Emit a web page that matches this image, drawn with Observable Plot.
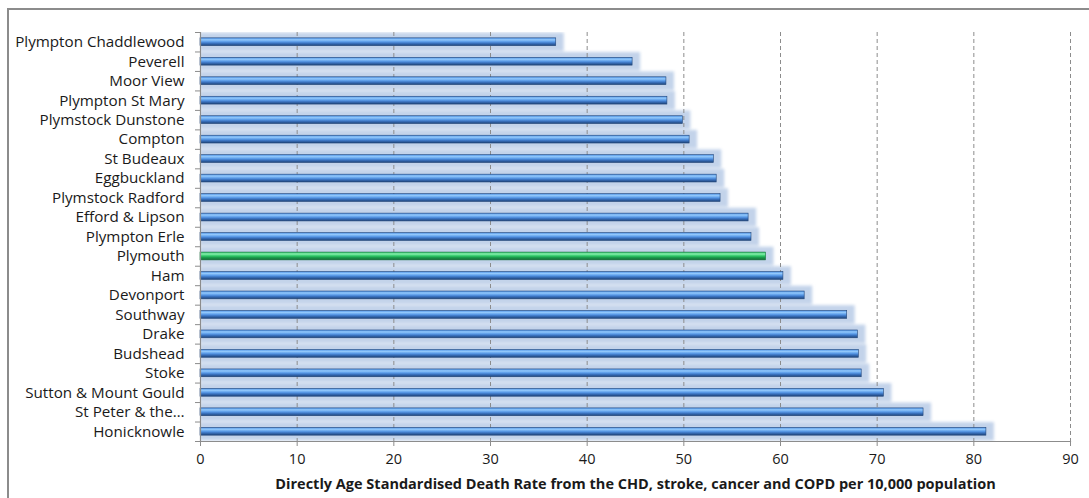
<!DOCTYPE html>
<html>
<head>
<meta charset="utf-8">
<script src="https://cdn.jsdelivr.net/npm/d3@7"></script>
<script src="https://cdn.jsdelivr.net/npm/@observablehq/plot@0.6"></script>
<style>
  body { margin: 0; background: #fff; }
  #wrap { position: relative; width: 1089px; height: 498px; overflow: hidden; background: #fff; }
  #frame { position: absolute; left: 7px; top: 8px; width: 1200px; height: 600px; border: 2px solid #8c8c8c; }
  #chart { position: absolute; left: 0; top: 0; }
</style>
</head>
<body>
<div id="wrap">
  <div id="frame"></div>
  <div id="chart"></div>
</div>
<script>
const names = [
  "Plympton Chaddlewood", "Peverell", "Moor View", "Plympton St Mary", "Plymstock Dunstone",
  "Compton", "St Budeaux", "Eggbuckland", "Plymstock Radford", "Efford & Lipson",
  "Plympton Erle", "Plymouth", "Ham", "Devonport", "Southway", "Drake", "Budshead",
  "Stoke", "Sutton & Mount Gould", "St Peter & the…", "Honicknowle"
];
const values = [
  36.8, 44.7, 48.2, 48.3, 49.9,
  50.6, 53.1, 53.4, 53.8, 56.7,
  57.0, 58.5, 60.3, 62.5, 66.9, 68.0, 68.1,
  68.4, 70.7, 74.8, 81.3
];
const highlight = "Plymouth";
const xTicks = [0, 10, 20, 30, 40, 50, 60, 70, 80, 90];
const xTitle = "Directly Age Standardised Death Rate from the CHD, stroke, cancer and COPD per 10,000 population";

const data = names.map((name, i) => ({name, value: values[i]}));

const W = 1089, H = 498, mT = 32, mB = 57, mL = 200, mR = 19;
const step = (H - mT - mB) / names.length;
const barH = 7.8;
const inset = (step - barH) / 2;

const plot = Plot.plot({
  width: W, height: H,
  marginLeft: mL, marginRight: mR, marginTop: mT, marginBottom: mB,
  style: {fontFamily: "'Open Sans', sans-serif", background: "transparent", overflow: "visible"},
  x: {domain: [0, 90], label: null},
  y: {domain: names, padding: 0, round: false, label: null},
  marks: [
    // soft glow behind every bar
    Plot.barX(data, {x: "value", y: "name", fill: "#c3d3ea", insetTop: 0.5, insetBottom: 0.5, insetRight: -8, clip: true}),
    // dashed gridlines
    Plot.ruleX(xTicks.slice(1), {stroke: "#8c8c8c", strokeWidth: 1, strokeDasharray: "4,3"}),
    // bars
    Plot.barX(data.filter(d => d.name !== highlight), {x: "value", y: "name", fill: "url(#gBlue)", stroke: "#22467a", strokeWidth: 0.6, insetTop: inset, insetBottom: inset}),
    Plot.barX(data.filter(d => d.name === highlight), {x: "value", y: "name", fill: "url(#gGreen)", stroke: "#137038", strokeWidth: 0.6, insetTop: inset, insetBottom: inset}),
    // axes lines
    Plot.ruleX([0], {stroke: "#8c8c8c", strokeWidth: 1.2}),
    Plot.axisY({tickSize: 0, tickPadding: 16, fontSize: 15.2, fill: "#1a1a1a"}),
    Plot.axisY({tickSize: 5, tickFormat: () => "", dy: -step / 2, stroke: "#8c8c8c"}),
    Plot.axisY({ticks: [names[names.length - 1]], tickSize: 5, tickFormat: () => "", dy: step / 2, stroke: "#8c8c8c"}),
    Plot.axisX({ticks: xTicks, tickSize: 5, tickPadding: 7, fontSize: 14.5, fill: "#1a1a1a", stroke: "#8c8c8c",
      label: xTitle, labelAnchor: "center", labelOffset: 47, labelArrow: "none"}),
    Plot.frame({anchor: "bottom", stroke: "#8c8c8c", strokeWidth: 1.2})
  ]
});

// gradients
const svg = d3.select(plot);
const defs = svg.insert("defs", ":first-child");
const gb = defs.append("linearGradient").attr("id", "gBlue").attr("x1", 0).attr("y1", 0).attr("x2", 0).attr("y2", 1);
[["0%", "#4f93e6"], ["25%", "#92c8fb"], ["50%", "#5a9be8"], ["70%", "#3a72bf"], ["100%", "#1f4478"]].forEach(([o, c]) => gb.append("stop").attr("offset", o).attr("stop-color", c));
const gg = defs.append("linearGradient").attr("id", "gGreen").attr("x1", 0).attr("y1", 0).attr("x2", 0).attr("y2", 1);
[["0%", "#2fc468"], ["25%", "#86eeac"], ["50%", "#2cc866"], ["70%", "#1b9a4c"], ["100%", "#126a36"]].forEach(([o, c]) => gg.append("stop").attr("offset", o).attr("stop-color", c));

const barGroups = plot.querySelectorAll('g[aria-label="bar"]');
if (barGroups.length) barGroups[0].style.filter = "blur(1.8px)";

// axis title styling
svg.selectAll('g[aria-label="x-axis label"] text').attr("font-weight", "bold").attr("font-size", 14.5).attr("fill", "#1a1a1a");

document.getElementById("chart").appendChild(plot);
</script>
</body>
</html>
